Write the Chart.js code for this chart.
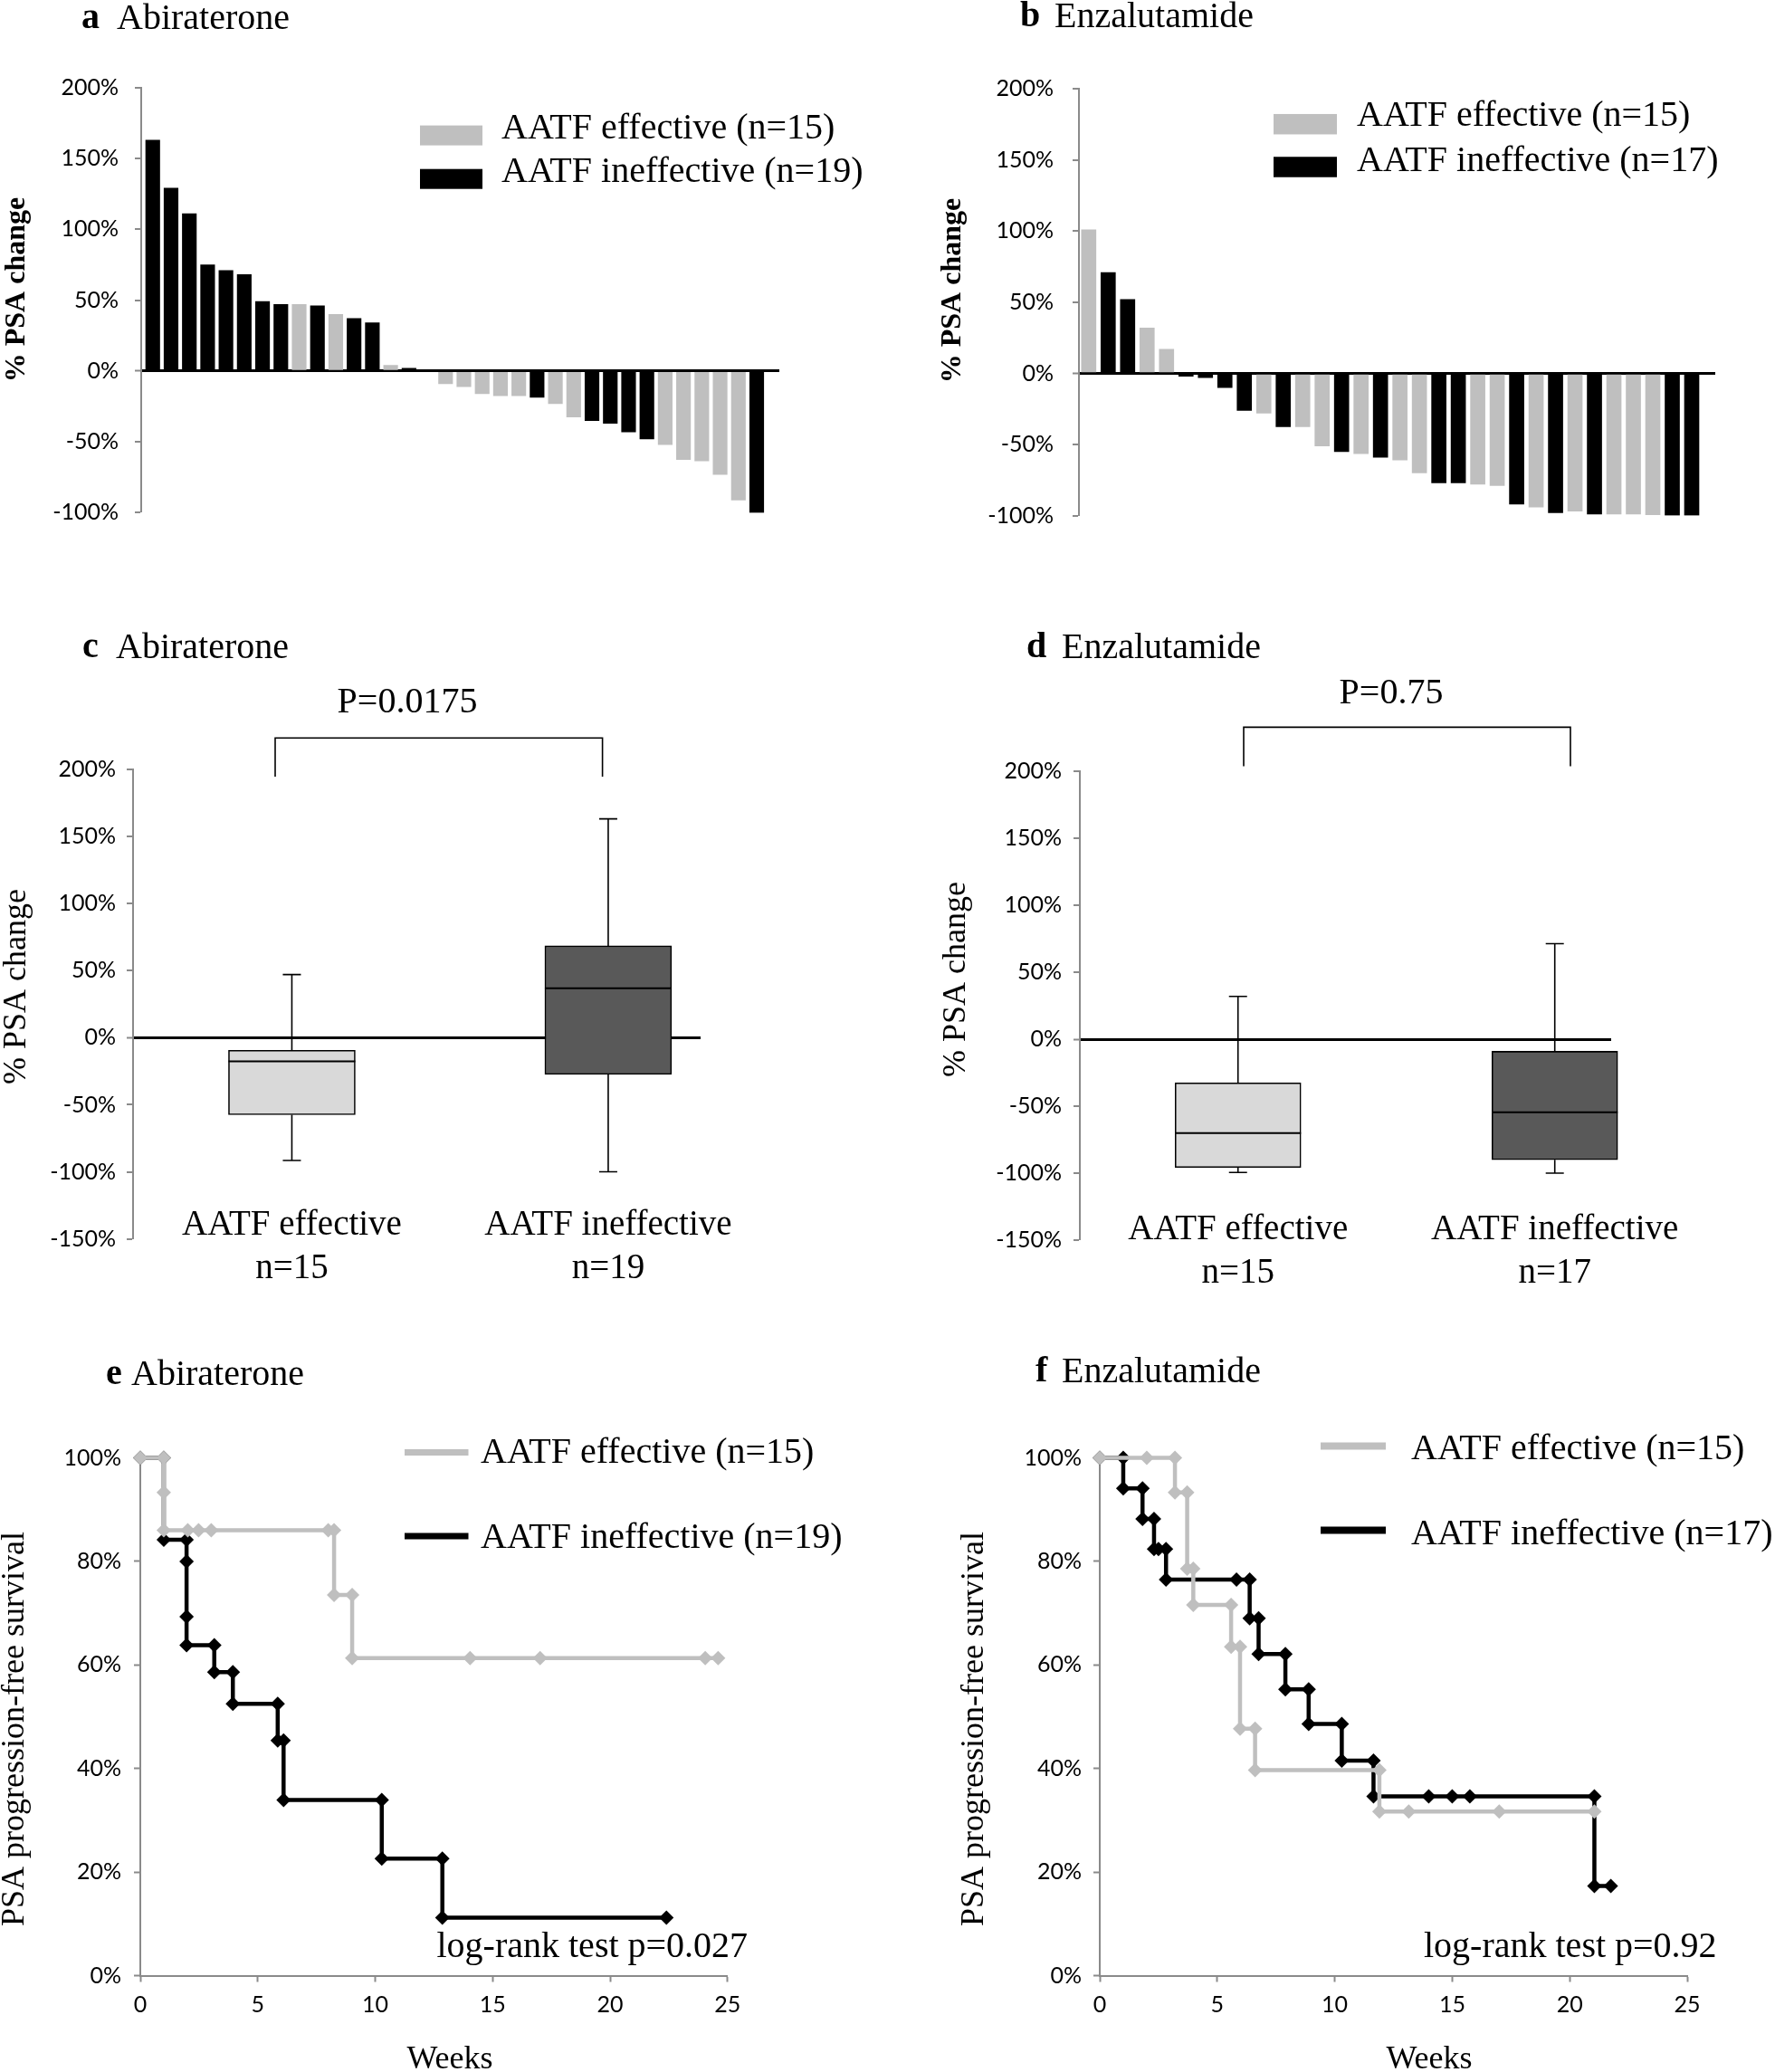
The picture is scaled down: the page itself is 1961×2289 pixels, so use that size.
<!DOCTYPE html>
<html>
<head>
<meta charset="utf-8">
<title>AATF and PSA response</title>
<script src="https://cdn.jsdelivr.net/npm/chart.js@4.4.1/dist/chart.umd.min.js"></script>
<style>
  html, body { margin:0; padding:0; background:#fff; overflow:hidden; }
  #page { position:relative; width:1961px; height:2289px; background:#fff; }
  .cell { position:absolute; }
</style>
</head>
<body>
<div id="page">
  <div class="cell" style="left:0px;top:0px"><canvas id="cA" width="980" height="640"></canvas></div>
  <div class="cell" style="left:980px;top:0px"><canvas id="cB" width="981" height="640"></canvas></div>
  <div class="cell" style="left:0px;top:640px"><canvas id="cC" width="980" height="820"></canvas></div>
  <div class="cell" style="left:980px;top:640px"><canvas id="cD" width="981" height="820"></canvas></div>
  <div class="cell" style="left:0px;top:1460px"><canvas id="cE" width="980" height="829"></canvas></div>
  <div class="cell" style="left:980px;top:1460px"><canvas id="cF" width="981" height="829"></canvas></div>
</div>
<script>
// ---------------- DATA ----------------
// (a) Abiraterone waterfall
const abiPatients = [1,2,3,4,5,6,7,8,9,10,11,12,13,14,15,16,17,18,19,20,21,22,23,24,25,26,27,28,29,30,31,32,33,34];
const abiValues = [163,129,111,75,71,68,49,47,47,46,40,37,34,4,2,0,-9,-11,-16,-17.5,-17.5,-18.5,-23,-32.5,-35,-37,-43,-48,-52,-62.5,-63.5,-73,-91,-100];
const abiGroup  = ['I','I','I','I','I','I','I','I','E','I','E','I','I','E','I','I','E','E','E','E','E','I','E','E','I','I','I','I','E','E','E','E','E','I'];
// (b) Enzalutamide waterfall
const enzPatients = [1,2,3,4,5,6,7,8,9,10,11,12,13,14,15,16,17,18,19,20,21,22,23,24,25,26,27,28,29,30,31,32];
const enzValues = [101,71,52,32,17,-2,-3,-10,-26,-28,-37.5,-37.5,-51,-55,-56.5,-59,-61,-70,-77,-77,-78,-79,-92,-94,-98,-97,-99,-99,-99,-99.5,-100,-100];
const enzGroup  = ['E','I','I','E','E','I','I','I','I','E','I','E','E','I','E','I','E','E','I','I','E','E','I','E','I','E','I','E','E','E','I','I'];

const groupLabels = ['AATF effective', 'AATF ineffective'];
const pctTicks = [-150, -100, -50, 0, 50, 100, 150, 200];

// (c) Abiraterone box plot  [effective, ineffective]
const abiN   = ['n=15', 'n=19'];
const abiMin = [-91.5, -100];
const abiQ1  = [-57.4, -27.4];
const abiMed = [-17.7, 36.8];
const abiQ3  = [-9.4, 68.4];
const abiMax = [47, 163];
const abiP   = 'P=0.0175';
// (d) Enzalutamide box plot
const enzN   = ['n=15', 'n=17'];
const enzMin = [-99.5, -100];
const enzQ1  = [-95.7, -90];
const enzMed = [-70, -54.6];
const enzQ3  = [-32.6, -9];
const enzMax = [32, 71.4];
const enzP   = 'P=0.75';

// (e) Abiraterone PSA progression-free survival
const abiEffWeeks = [0, 1, 1, 1, 2.02, 2.48, 3.02, 8.0, 8.25, 8.25, 9.02, 9.02, 14.04, 17.02, 24.05, 24.6];
const abiEffPFS   = [100, 100, 93.3, 86, 86, 86, 86, 86, 86, 73.5, 73.5, 61.3, 61.3, 61.3, 61.3, 61.3];
const abiIneWeeks = [0, 1, 1, 1.97, 1.97, 1.97, 1.97, 3.15, 3.15, 3.94, 3.94, 5.85, 5.85, 6.1, 6.1, 10.28, 10.28, 12.86, 12.86, 22.4];
const abiInePFS   = [100, 100, 84.2, 84.2, 80, 69.3, 63.8, 63.8, 58.6, 58.6, 52.5, 52.5, 45.4, 45.4, 33.9, 33.9, 22.6, 22.6, 11.2, 11.2];
const abiLogRank  = 'log-rank test p=0.027';
// (f) Enzalutamide PSA progression-free survival
const enzEffWeeks = [0, 2, 3.2, 3.2, 3.72, 3.72, 3.98, 3.98, 5.59, 5.59, 5.97, 5.97, 6.61, 6.61, 11.9, 11.9, 13.15, 17.0, 21.05];
const enzEffPFS   = [100, 100, 100, 93.3, 93.3, 78.6, 78.6, 71.6, 71.6, 63.5, 63.5, 47.7, 47.7, 39.7, 39.7, 31.7, 31.7, 31.7, 31.7];
const enzIneWeeks = [0, 1, 1, 1.82, 1.82, 2.31, 2.31, 2.5, 2.82, 2.82, 5.82, 6.38, 6.38, 6.76, 6.76, 7.9, 7.9, 8.89, 8.89, 10.3, 10.3, 11.65, 11.65, 14.0, 15.0, 15.75, 21.05, 21.05, 21.75];
const enzInePFS   = [100, 100, 94.1, 94.1, 88.2, 88.2, 82.4, 82.4, 82.4, 76.5, 76.5, 76.5, 69.0, 69.0, 62.1, 62.1, 55.3, 55.3, 48.6, 48.6, 41.5, 41.5, 34.6, 34.6, 34.6, 34.6, 34.6, 17.3, 17.3];
const enzLogRank  = 'log-rank test p=0.92';

// ---------------- STYLE ----------------
const GRAY = '#bfbfbf', BLACK = '#000000', AXIS = '#8a8a8a';
const BOX_FILL = ['#d9d9d9', '#595959'];
const SERIF = "'Liberation Serif', 'Times New Roman', serif";
const SANS = "Lato, 'Liberation Sans', sans-serif";
const TICK_FONT = { family: SANS, size: 25 };

// ---------------- PLUGINS ----------------
function annot(ox, oy, cfg) {
  return {
    id: 'annot',
    afterDraw(chart) {
      const ctx = chart.ctx;
      ctx.save();
      (cfg.lines || []).forEach(l => {
        ctx.beginPath();
        ctx.lineWidth = l.w; ctx.strokeStyle = l.c || '#000';
        l.pts.forEach((p, i) => i ? ctx.lineTo(p[0] - ox, p[1] - oy) : ctx.moveTo(p[0] - ox, p[1] - oy));
        ctx.stroke();
      });
      (cfg.texts || []).forEach(t => {
        ctx.save();
        ctx.font = t.font; ctx.fillStyle = t.c || '#000';
        ctx.textAlign = t.align || 'left'; ctx.textBaseline = 'middle';
        ctx.translate(t.x - ox, t.y - oy);
        if (t.rot) ctx.rotate(t.rot);
        ctx.fillText(t.t, 0, 0);
        ctx.restore();
      });
      ctx.restore();
    }
  };
}

// legend drawn from the chart's own datasets
function sideLegend(ox, oy, o) {
  return {
    id: 'sideLegend',
    afterDraw(chart) {
      const ctx = chart.ctx;
      ctx.save();
      chart.data.datasets.forEach((ds, i) => {
        const sy = o.sy[i] - oy;
        if (o.kind === 'bar') {
          ctx.fillStyle = ds.backgroundColor;
          ctx.fillRect(o.sx - ox, sy - o.sh / 2, o.sw, o.sh);
        } else {
          ctx.strokeStyle = ds.borderColor; ctx.lineWidth = o.sh;
          ctx.beginPath(); ctx.moveTo(o.sx - ox, sy); ctx.lineTo(o.sx + o.sw - ox, sy); ctx.stroke();
        }
        ctx.fillStyle = '#000';
        ctx.font = '40px ' + SERIF;
        ctx.textAlign = 'left'; ctx.textBaseline = 'middle';
        ctx.fillText(ds.label, o.tx - ox, o.ty[i] - oy);
      });
      ctx.restore();
    }
  };
}

// whiskers, medians and group labels for the box plots (positions from the chart scales)
function boxExtras(mins, q1s, meds, q3s, maxs, thickness, names, ns, oy, nameY, nY) {
  return {
    id: 'boxExtras',
    afterDatasetsDraw(chart) {
      const { ctx } = chart; const x = chart.scales.x, y = chart.scales.y;
      ctx.save(); ctx.strokeStyle = '#000'; ctx.lineWidth = 1.6;
      mins.forEach((mn, i) => {
        const cx = x.getPixelForValue(i + 1);
        const yMax = y.getPixelForValue(maxs[i]), yMin = y.getPixelForValue(mn);
        ctx.beginPath();
        ctx.moveTo(cx, y.getPixelForValue(q3s[i])); ctx.lineTo(cx, yMax);
        ctx.moveTo(cx - 10, yMax); ctx.lineTo(cx + 10, yMax);
        ctx.moveTo(cx, y.getPixelForValue(q1s[i])); ctx.lineTo(cx, yMin);
        ctx.moveTo(cx - 10, yMin); ctx.lineTo(cx + 10, yMin);
        ctx.stroke();
        ctx.beginPath(); ctx.lineWidth = 2;
        const ym = y.getPixelForValue(meds[i]);
        ctx.moveTo(cx - thickness / 2, ym); ctx.lineTo(cx + thickness / 2, ym);
        ctx.stroke(); ctx.lineWidth = 1.6;
      });
      ctx.restore();
    },
    afterDraw(chart) {
      const { ctx } = chart; const x = chart.scales.x;
      ctx.save();
      ctx.fillStyle = '#000'; ctx.font = '39px ' + SERIF;
      ctx.textAlign = 'center'; ctx.textBaseline = 'middle';
      names.forEach((n, i) => {
        const cx = x.getPixelForValue(i + 1);
        ctx.fillText(n, cx, nameY - oy);
        ctx.fillText(ns[i], cx, nY - oy);
      });
      ctx.restore();
    }
  };
}

// ---------------- HELPERS ----------------
function groupPoints(ids, vals, groups, g) {
  const out = [];
  ids.forEach((id, i) => { if (groups[i] === g) out.push({ x: id, y: vals[i] }); });
  return out;
}
function kmPoints(weeks, pfs) { return weeks.map((w, i) => ({ x: w, y: pfs[i] })); }
const pct = v => v + '%';
const zeroColor = c => (c.tick && c.tick.value === 0) ? '#000' : 'rgba(0,0,0,0)';
const zeroWidth = c => (c.tick && c.tick.value === 0) ? 3 : 0;

function pctAxis(min, max, width, pad) {
  return {
    type: 'linear', min: min, max: max, z: 1,
    afterBuildTicks: s => { s.ticks = pctTicks.filter(v => v >= min && v <= max).map(v => ({ value: v })); },
    ticks: { callback: pct, font: TICK_FONT, color: '#000', padding: pad },
    grid: { drawOnChartArea: true, drawTicks: true, tickLength: 7, tickWidth: 2, tickColor: AXIS, color: zeroColor, lineWidth: zeroWidth },
    border: { display: true, color: AXIS, width: 2 },
    afterFit: s => { s.width = width; }
  };
}
function hiddenX(min, max) {
  return { type: 'linear', display: false, offset: false, min: min, max: max, grid: { offset: false } };
}
const baseOpts = (padding) => ({
  responsive: false, animation: false, devicePixelRatio: 1,
  layout: { padding: padding },
  plugins: { legend: { display: false }, tooltip: { enabled: false } }
});
function titleTexts(letter, lx, name, nx, y) {
  return [
    { t: letter, x: lx, y: y, font: 'bold 40px ' + SERIF },
    { t: name, x: nx, y: y, font: '40px ' + SERIF }
  ];
}

// ---------------- (a) ----------------
(function () {
  const ox = 0, oy = 0;
  const o = baseOpts({ left: 0, top: 96.8, right: 119, bottom: 73.6 });
  o.scales = { x: hiddenX(0.3695, 35.236), y: pctAxis(-100, 200, 156, 18) };
  new Chart(document.getElementById('cA'), {
    type: 'bar',
    data: { datasets: [
      { label: 'AATF effective (n=15)', data: groupPoints(abiPatients, abiValues, abiGroup, 'E'), backgroundColor: GRAY, borderWidth: 0, grouped: false, barThickness: 15.5 },
      { label: 'AATF ineffective (n=19)', data: groupPoints(abiPatients, abiValues, abiGroup, 'I'), backgroundColor: BLACK, borderWidth: 0, grouped: false, barThickness: 15.5 }
    ] },
    options: o,
    plugins: [
      annot(ox, oy, { texts: titleTexts('a', 90, 'Abiraterone', 129, 21).concat([
        { t: '% PSA change', x: 19, y: 320, font: 'bold 32px ' + SERIF, align: 'center', rot: -Math.PI / 2 }
      ]) }),
      sideLegend(ox, oy, { kind: 'bar', sx: 464, sw: 69, sh: 22, sy: [149.6, 197.7], tx: 554, ty: [142.6, 190.4] })
    ]
  });
})();

// ---------------- (b) ----------------
(function () {
  const ox = 980, oy = 0;
  const o = baseOpts({ left: 0, top: 98.4, right: 66, bottom: 70.5 });
  o.scales = { x: hiddenX(0.497, 33.21), y: pctAxis(-100, 200, 212, 21) };
  new Chart(document.getElementById('cB'), {
    type: 'bar',
    data: { datasets: [
      { label: 'AATF effective (n=15)', data: groupPoints(enzPatients, enzValues, enzGroup, 'E'), backgroundColor: GRAY, borderWidth: 0, grouped: false, barThickness: 16 },
      { label: 'AATF ineffective (n=17)', data: groupPoints(enzPatients, enzValues, enzGroup, 'I'), backgroundColor: BLACK, borderWidth: 0, grouped: false, barThickness: 16 }
    ] },
    options: o,
    plugins: [
      annot(ox, oy, { texts: titleTexts('b', 1127, 'Enzalutamide', 1165, 19).concat([
        { t: '% PSA change', x: 1053, y: 321, font: 'bold 32px ' + SERIF, align: 'center', rot: -Math.PI / 2 }
      ]) }),
      sideLegend(ox, oy, { kind: 'bar', sx: 1407, sw: 70, sh: 22.5, sy: [137.2, 184.5], tx: 1499, ty: [128, 178] })
    ]
  });
})();

// ---------------- (c) ----------------
(function () {
  const ox = 0, oy = 640;
  const o = baseOpts({ left: 0, top: 209.8, right: 206, bottom: 91.3 });
  o.scales = { x: hiddenX(0.498, 2.292), y: pctAxis(-150, 200, 147, 12) };
  new Chart(document.getElementById('cC'), {
    type: 'bar',
    data: { datasets: [
      { label: 'Abiraterone', data: [{ x: 1, y: [abiQ1[0], abiQ3[0]] }, { x: 2, y: [abiQ1[1], abiQ3[1]] }],
        backgroundColor: BOX_FILL, borderColor: '#000', borderWidth: 1.6, borderSkipped: false, grouped: false, barThickness: 140, clip: false }
    ] },
    options: o,
    plugins: [
      annot(ox, oy, {
        texts: titleTexts('c', 91, 'Abiraterone', 128, 716).concat([
          { t: '% PSA change', x: 19, y: 1090, font: '36px ' + SERIF, align: 'center', rot: -Math.PI / 2 },
          { t: abiP, x: 450, y: 776, font: '40px ' + SERIF, align: 'center' }
        ]),
        lines: [{ w: 1.6, pts: [[304, 858], [304, 815.3], [665.6, 815.3], [665.6, 858]] }]
      }),
      boxExtras(abiMin, abiQ1, abiMed, abiQ3, abiMax, 140, groupLabels, abiN, oy, 1354, 1402)
    ]
  });
})();

// ---------------- (d) ----------------
(function () {
  const ox = 980, oy = 640;
  const o = baseOpts({ left: 0, top: 212.2, right: 181, bottom: 90 });
  o.scales = { x: hiddenX(0.5007, 2.178), y: pctAxis(-150, 200, 213, 13) };
  new Chart(document.getElementById('cD'), {
    type: 'bar',
    data: { datasets: [
      { label: 'Enzalutamide', data: [{ x: 1, y: [enzQ1[0], enzQ3[0]] }, { x: 2, y: [enzQ1[1], enzQ3[1]] }],
        backgroundColor: BOX_FILL, borderColor: '#000', borderWidth: 1.6, borderSkipped: false, grouped: false, barThickness: 139, clip: false }
    ] },
    options: o,
    plugins: [
      annot(ox, oy, {
        texts: titleTexts('d', 1134, 'Enzalutamide', 1173, 716).concat([
          { t: '% PSA change', x: 1057, y: 1082, font: '36px ' + SERIF, align: 'center', rot: -Math.PI / 2 },
          { t: enzP, x: 1537, y: 766, font: '40px ' + SERIF, align: 'center' }
        ]),
        lines: [{ w: 1.6, pts: [[1374, 846.4], [1374, 803.4], [1735, 803.4], [1735, 846.4]] }]
      }),
      boxExtras(enzMin, enzQ1, enzMed, enzQ3, enzMax, 139, groupLabels, enzN, oy, 1359, 1407)
    ]
  });
})();

// ---------------- KM helpers ----------------
function kmDataset(label, pts, color) {
  return { label: label, data: pts, borderColor: color, backgroundColor: color, borderWidth: 4.5,
    pointStyle: 'rectRot', pointRadius: 8, pointBorderWidth: 0, pointBackgroundColor: color,
    tension: 0, fill: false, clip: false };
}
function kmScales(yWidth, yPad, xHeight) {
  return {
    x: { type: 'linear', min: 0, max: 25, offset: false,
      ticks: { stepSize: 5, font: TICK_FONT, color: '#000', padding: 10 },
      grid: { drawOnChartArea: false, drawTicks: true, tickLength: 7, tickWidth: 2, tickColor: AXIS },
      border: { display: true, color: AXIS, width: 2 },
      afterFit: s => { s.height = xHeight; } },
    y: { type: 'linear', min: 0, max: 100,
      ticks: { stepSize: 20, callback: pct, font: TICK_FONT, color: '#000', padding: yPad },
      grid: { drawOnChartArea: false, drawTicks: true, tickLength: 7, tickWidth: 2, tickColor: AXIS },
      border: { display: true, color: AXIS, width: 2 },
      afterFit: s => { s.width = yWidth; } }
  };
}

// ---------------- (e) ----------------
(function () {
  const ox = 0, oy = 1460;
  const o = baseOpts({ left: 0, top: 150.5, right: 176.25, bottom: 0 });
  o.scales = kmScales(155, 14, 106.5);
  new Chart(document.getElementById('cE'), {
    type: 'line',
    data: { datasets: [
      kmDataset('AATF effective (n=15)', kmPoints(abiEffWeeks, abiEffPFS), GRAY),
      kmDataset('AATF ineffective (n=19)', kmPoints(abiIneWeeks, abiInePFS), BLACK)
    ] },
    options: o,
    plugins: [
      annot(ox, oy, { texts: titleTexts('e', 117, 'Abiraterone', 145, 1519).concat([
        { t: 'PSA progression-free survival', x: 17, y: 1910, font: '36px ' + SERIF, align: 'center', rot: -Math.PI / 2 },
        { t: 'Weeks', x: 497, y: 2276, font: '36px ' + SERIF, align: 'center' },
        { t: abiLogRank, x: 482.5, y: 2151, font: '40px ' + SERIF }
      ]) }),
      sideLegend(ox, oy, { kind: 'line', sx: 447, sw: 70.5, sh: 7, sy: [1604.5, 1697], tx: 531, ty: [1605, 1699] })
    ]
  });
})();

// ---------------- (f) ----------------
(function () {
  const ox = 980, oy = 1460;
  const o = baseOpts({ left: 0, top: 150.5, right: 97, bottom: 0 });
  o.scales = kmScales(235, 13, 106.5);
  new Chart(document.getElementById('cF'), {
    type: 'line',
    data: { datasets: [
      kmDataset('AATF effective (n=15)', kmPoints(enzEffWeeks, enzEffPFS), GRAY),
      kmDataset('AATF ineffective (n=17)', kmPoints(enzIneWeeks, enzInePFS), BLACK)
    ] },
    options: o,
    plugins: [
      annot(ox, oy, { texts: titleTexts('f', 1144, 'Enzalutamide', 1173, 1516).concat([
        { t: 'PSA progression-free survival', x: 1077, y: 1910, font: '36px ' + SERIF, align: 'center', rot: -Math.PI / 2 },
        { t: 'Weeks', x: 1579, y: 2276, font: '36px ' + SERIF, align: 'center' },
        { t: enzLogRank, x: 1573, y: 2151, font: '40px ' + SERIF }
      ]) }),
      sideLegend(ox, oy, { kind: 'line', sx: 1459, sw: 72, sh: 8, sy: [1597.5, 1690.5], tx: 1559, ty: [1601, 1695] })
    ]
  });
})();
</script>
</body>
</html>
